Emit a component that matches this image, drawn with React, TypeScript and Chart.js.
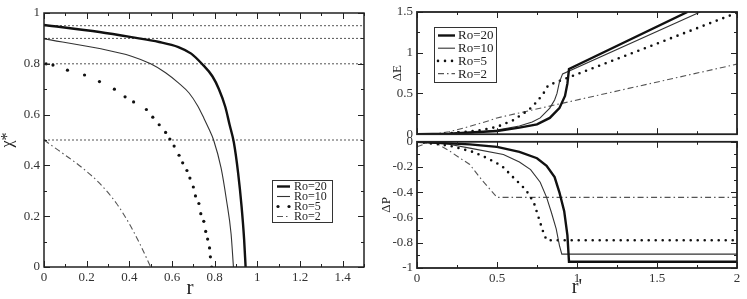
import React, { useEffect, useRef } from 'react';
import { Chart, registerables } from 'chart.js';

Chart.register(...registerables);

type P = [number, number];

const FONT = "'Liberation Serif', 'Times New Roman', serif";

const seriesLabels = ['Ro=20', 'Ro=10', 'Ro=5', 'Ro=2'];

// ---------- Left panel: chi* versus r ----------
const leftXRange: P = [0, 1.5];
const leftYRange: P = [0, 1];
const leftRo20: P[] = [
  [0, 0.953], [0.26, 0.925], [0.41, 0.905], [0.54, 0.886], [0.63, 0.866], [0.69, 0.84],
  [0.74, 0.8], [0.79, 0.75], [0.82, 0.7], [0.85, 0.63], [0.87, 0.56], [0.89, 0.49],
  [0.91, 0.37], [0.926, 0.24], [0.938, 0.11], [0.945, 0],
];
const leftRo10: P[] = [
  [0, 0.898], [0.26, 0.86], [0.41, 0.83], [0.5, 0.8], [0.57, 0.765], [0.63, 0.725],
  [0.68, 0.685], [0.72, 0.635], [0.75, 0.585], [0.775, 0.54], [0.795, 0.5], [0.83, 0.39],
  [0.856, 0.26], [0.877, 0.13], [0.888, 0],
];
const leftRo5: P[] = [
  [0.01, 0.8], [0.042, 0.795], [0.11, 0.775], [0.19, 0.756], [0.26, 0.73], [0.33, 0.7],
  [0.38, 0.67], [0.42, 0.65], [0.48, 0.62], [0.51, 0.59], [0.54, 0.56], [0.57, 0.53],
  [0.59, 0.504], [0.61, 0.476], [0.633, 0.44], [0.65, 0.41], [0.67, 0.38], [0.684, 0.35],
  [0.7, 0.315], [0.71, 0.28], [0.726, 0.25], [0.735, 0.21], [0.749, 0.18], [0.758, 0.14],
  [0.767, 0.11], [0.776, 0.075], [0.78, 0.04], [0.786, 0],
];
const leftRo2: P[] = [
  [0, 0.5], [0.05, 0.47], [0.1, 0.44], [0.18, 0.39], [0.26, 0.33], [0.34, 0.25],
  [0.4, 0.17], [0.45, 0.09], [0.5, 0],
];
const leftRefLevels = [0.95, 0.9, 0.8, 0.5];

// ---------- Right panel: ΔE and ΔP versus r' ----------
const rightXRange: P = [0, 2];
const dEYRange: P = [0, 1.5];
const dPYRange: P = [-1, 0];

const dERo20: P[] = [
  [0, 0], [0.2, 0.005], [0.33, 0.02], [0.5, 0.04], [0.64, 0.08], [0.75, 0.12], [0.83, 0.2],
  [0.89, 0.32], [0.925, 0.47], [0.94, 0.62], [0.95, 0.8], [1.69, 1.5],
];
const dERo10: P[] = [
  [0, 0], [0.2, 0.005], [0.33, 0.015], [0.5, 0.05], [0.64, 0.1], [0.72, 0.15], [0.77, 0.2],
  [0.83, 0.32], [0.86, 0.42], [0.875, 0.5], [0.89, 0.64], [0.91, 0.74], [1.77, 1.5],
];
const dERo5: P[] = [
  [0, 0], [0.05, -0.02], [0.1, -0.01], [0.2, 0.01], [0.3, 0.03], [0.4, 0.05], [0.5, 0.09],
  [0.6, 0.17], [0.7, 0.3], [0.75, 0.4], [0.79, 0.5], [0.82, 0.6], [2, 1.49],
];
const dERo2: P[] = [
  [0, 0], [0.1, 0], [0.2, 0.03], [0.3, 0.08], [0.37, 0.12], [0.45, 0.165], [0.5, 0.2], [2, 0.86],
];

const dPRo20: P[] = [
  [0, 0], [0.33, -0.02], [0.5, -0.04], [0.64, -0.08], [0.75, -0.13], [0.81, -0.19],
  [0.86, -0.28], [0.89, -0.4], [0.92, -0.55], [0.94, -0.74], [0.95, -0.95], [2, -0.95],
];
const dPRo10: P[] = [
  [0, 0], [0.2, -0.02], [0.33, -0.05], [0.54, -0.1], [0.64, -0.16], [0.71, -0.22],
  [0.77, -0.32], [0.81, -0.44], [0.84, -0.56], [0.87, -0.69], [0.89, -0.82], [0.905, -0.89],
  [2, -0.89],
];
const dPRo5: P[] = [
  [0, 0], [0.2, -0.03], [0.35, -0.08], [0.44, -0.13], [0.53, -0.19], [0.6, -0.28],
  [0.68, -0.38], [0.73, -0.48], [0.76, -0.6], [0.79, -0.72], [0.81, -0.78], [2, -0.78],
];
const dPRo2: P[] = [
  [0, -0.04], [0.06, -0.01], [0.12, -0.01], [0.2, -0.07], [0.27, -0.13], [0.33, -0.18],
  [0.41, -0.31], [0.5, -0.44], [2, -0.44],
];

// ---------- helpers ----------
const toXY = (arr: P[]) => arr.map(([x, y]) => ({ x, y }));
const fmt = (v: any) => String(Number(Number(v).toFixed(2)));

const styles = [
  { borderColor: '#111', borderWidth: 2.4 },
  { borderColor: '#333', borderWidth: 1.1 },
  { borderColor: '#111', borderWidth: 2.6, borderDash: [0, 7], borderCapStyle: 'round' },
  { borderColor: '#555', borderWidth: 1.1, borderDash: [6, 3, 1.5, 3] },
];

const framePlugin = {
  id: 'frameTicks',
  afterDatasetsDraw(chart: any, _a: any, opts: any) {
    const { ctx, chartArea: a, scales } = chart;
    const xs = scales.x;
    const ys = scales.y;
    ctx.save();
    ctx.strokeStyle = '#222';
    ctx.lineWidth = 1;
    ctx.setLineDash([]);
    const near = (v: number, step: number) => Math.abs(v / step - Math.round(v / step)) < 1e-6;
    const xmin = xs.min, xmax = xs.max;
    for (let i = 0; ; i++) {
      const v = xmin + i * opts.xMinor;
      if (v > xmax + 1e-9) break;
      const len = near(v, opts.xMajor) ? 6 : 3;
      const px = Math.round(xs.getPixelForValue(v)) + 0.5;
      ctx.beginPath();
      ctx.moveTo(px, a.bottom); ctx.lineTo(px, a.bottom - len);
      ctx.moveTo(px, a.top); ctx.lineTo(px, a.top + len);
      ctx.stroke();
    }
    const ymin = ys.min, ymax = ys.max;
    for (let i = 0; ; i++) {
      const v = ymin + i * opts.yMinor;
      if (v > ymax + 1e-9) break;
      const len = near(v, opts.yMajor) ? 6 : 3;
      const py = Math.round(ys.getPixelForValue(v)) + 0.5;
      ctx.beginPath();
      ctx.moveTo(a.left, py); ctx.lineTo(a.left + len, py);
      ctx.moveTo(a.right, py); ctx.lineTo(a.right - len, py);
      ctx.stroke();
    }
    ctx.lineWidth = opts.frameWidth || 1.5;
    ctx.strokeRect(a.left, a.top, a.right - a.left, a.bottom - a.top);
    if (opts.xTitle) {
      const t = opts.xTitle;
      ctx.fillStyle = '#222';
      ctx.font = `${t.size}px ${FONT}`;
      ctx.textAlign = 'center';
      ctx.textBaseline = 'middle';
      ctx.fillText(t.text, a.left + t.dx, t.y);
    }
    ctx.restore();
  },
};

const legendPlugin = {
  id: 'boxLegend',
  afterDraw(chart: any, _a: any, opts: any) {
    if (!opts || !opts.show) return;
    const { ctx, chartArea: a } = chart;
    const x = a.left + opts.dx;
    const y = a.top + opts.dy;
    ctx.save();
    ctx.fillStyle = '#fff';
    ctx.fillRect(x, y, opts.w, opts.h);
    ctx.strokeStyle = '#333';
    ctx.lineWidth = 1;
    ctx.setLineDash([]);
    ctx.strokeRect(x + 0.5, y + 0.5, opts.w, opts.h);
    const ds = chart.data.datasets.filter((d: any) => seriesLabels.includes(d.label));
    ds.forEach((d: any, i: number) => {
      const cy = y + opts.firstRow + i * opts.rowH;
      const sx = x + opts.sampleX;
      const ex = sx + opts.sampleLen;
      if (d.showLine === false) {
        ctx.fillStyle = d.pointBackgroundColor;
        [sx + 1, ex - 1].forEach((px) => {
          ctx.beginPath();
          ctx.arc(px, cy, d.pointRadius, 0, Math.PI * 2);
          ctx.fill();
        });
      } else {
        ctx.strokeStyle = d.borderColor;
        ctx.lineWidth = d.borderWidth;
        ctx.lineCap = d.borderCapStyle || 'butt';
        ctx.setLineDash(d.borderDash || []);
        ctx.beginPath();
        ctx.moveTo(sx, cy);
        ctx.lineTo(ex, cy);
        ctx.stroke();
      }
      ctx.setLineDash([]);
      ctx.fillStyle = '#222';
      ctx.font = `${opts.fontSize}px ${FONT}`;
      ctx.textBaseline = 'middle';
      ctx.textAlign = 'left';
      ctx.fillText(d.label, x + opts.textX, cy + 0.5);
    });
    ctx.restore();
  },
};

const tickFont = { family: FONT, size: 13 };

function linearX(range: P, step: number, show: boolean, title: string, titlePadBottom: number, height: number) {
  return {
    type: 'linear',
    min: range[0],
    max: range[1],
    display: show,
    border: { display: false },
    grid: { display: false, drawTicks: false },
    ticks: { stepSize: step, includeBounds: false, autoSkip: false, maxRotation: 0, padding: 3, font: tickFont, color: '#333', callback: fmt },
    title: { display: !!title, text: title, color: '#222', font: { family: FONT, size: 20, lineHeight: 1 }, padding: { top: 0, bottom: titlePadBottom } },
    afterFit: (s: any) => { s.height = height; },
  };
}

function linearY(range: P, step: number, title: string, titleSize: number, titlePadTop: number, width: number) {
  return {
    type: 'linear',
    min: range[0],
    max: range[1],
    border: { display: false },
    grid: { display: false, drawTicks: false },
    ticks: { stepSize: step, includeBounds: false, autoSkip: false, padding: 4, font: tickFont, color: '#333', callback: fmt },
    title: { display: true, text: title, color: '#222', font: { family: FONT, size: titleSize, lineHeight: 1 }, padding: { top: titlePadTop, bottom: 0 } },
    afterFit: (s: any) => { s.width = width; },
  };
}

function seriesDatasets(arrs: P[][], dottedAsPoints: boolean, tension: number) {
  return arrs.map((arr, i) => {
    if (i === 2 && dottedAsPoints) {
      return {
        label: seriesLabels[i],
        data: toXY(arr),
        showLine: false,
        pointRadius: 1.6,
        pointBackgroundColor: '#111',
        pointBorderWidth: 0,
        pointHoverRadius: 1.6,
      };
    }
    return {
      label: seriesLabels[i],
      data: toXY(arr),
      pointRadius: 0,
      tension,
      cubicInterpolationMode: tension > 0 ? 'monotone' : 'default',
      ...styles[i],
    };
  });
}

function baseOptions(padding: any, scales: any, frame: any, legend: any) {
  return {
    responsive: false,
    animation: false,
    devicePixelRatio: 1,
    layout: { padding },
    events: [],
    scales,
    plugins: {
      legend: { display: false },
      tooltip: { enabled: false },
      frameTicks: frame,
      boxLegend: legend,
    },
  };
}

function leftConfig(): any {
  const refSets = leftRefLevels.map((v) => ({
    label: 'ref',
    data: toXY([[leftXRange[0], v], [leftXRange[1], v]]),
    borderColor: '#555',
    borderWidth: 1,
    borderDash: [2, 2],
    pointRadius: 0,
  }));
  return {
    type: 'line',
    data: { datasets: [...seriesDatasets([leftRo20, leftRo10, leftRo5, leftRo2], true, 0.4), ...refSets] },
    options: baseOptions(
      { left: 0, top: 13, right: 11, bottom: 0 },
      { x: linearX(leftXRange, 0.2, true, '', 0, 32), y: linearY(leftYRange, 0.2, 'χ*', 16, 0, 44) },
      { xMinor: 0.1, xMajor: 0.2, yMinor: 0.1, yMajor: 0.2, frameWidth: 1.5, xTitle: { text: 'r', dx: 146, y: 288, size: 21 } },
      { show: true, dx: 228, dy: 167, w: 60, h: 42, firstRow: 6.5, rowH: 10, sampleX: 5, sampleLen: 13, textX: 22, fontSize: 12 },
    ),
    plugins: [framePlugin, legendPlugin],
  };
}

function topRightConfig(): any {
  return {
    type: 'line',
    data: { datasets: seriesDatasets([dERo20, dERo10, dERo5, dERo2], false, 0) },
    options: baseOptions(
      { left: 0, top: 12, right: 10, bottom: 6 },
      { x: linearX(rightXRange, 0.5, false, '', 0, 0), y: linearY(dEYRange, 0.5, 'ΔE', 13, 16, 42) },
      { xMinor: 0.25, xMajor: 0.5, yMinor: 0.25, yMajor: 0.5, frameWidth: 1.8 },
      { show: true, dx: 17, dy: 15, w: 62, h: 55, firstRow: 8.5, rowH: 12.7, sampleX: 4, sampleLen: 17, textX: 24, fontSize: 13 },
    ),
    plugins: [framePlugin, legendPlugin],
  };
}

function bottomRightConfig(): any {
  return {
    type: 'line',
    data: { datasets: seriesDatasets([dPRo20, dPRo10, dPRo5, dPRo2], false, 0) },
    options: baseOptions(
      { left: 0, top: 10, right: 10, bottom: 0 },
      { x: linearX(rightXRange, 0.5, true, "r'", 1, 31), y: linearY(dPYRange, 0.2, 'ΔP', 13, 5, 42) },
      { xMinor: 0.25, xMajor: 0.5, yMinor: 0.1, yMajor: 0.2, frameWidth: 1.8 },
      { show: false },
    ),
    plugins: [framePlugin, legendPlugin],
  };
}

function ChartBox({ make, left, top, width, height }: { make: () => any; left: number; top: number; width: number; height: number }) {
  const ref = useRef<HTMLCanvasElement>(null);
  useEffect(() => {
    const chart = new Chart(ref.current as HTMLCanvasElement, make());
    return () => chart.destroy();
  }, []);
  return (
    <div style={{ position: 'absolute', left, top, width, height }}>
      <canvas ref={ref} width={width} height={height} style={{ display: 'block', width, height }} />
    </div>
  );
}

export default function App() {
  return (
    <div style={{ position: 'absolute', left: 0, top: 0, width: 747, height: 299, background: '#fff', overflow: 'hidden' }}>
      <ChartBox make={leftConfig} left={0} top={0} width={375} height={299} />
      <ChartBox make={topRightConfig} left={375} top={0} width={372} height={146} />
      <ChartBox make={bottomRightConfig} left={375} top={130} width={372} height={169} />
    </div>
  );
}
